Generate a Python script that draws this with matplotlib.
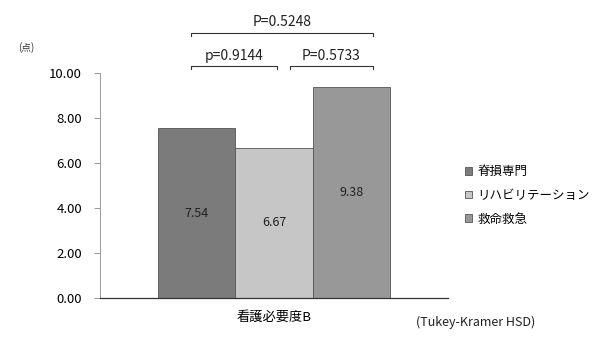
import matplotlib
matplotlib.use("Agg")
import matplotlib.pyplot as plt

plt.rcParams['font.family'] = ['Noto Sans CJK JP', 'DejaVu Sans']

category = "看護必要度B"
groups = ["脊損専門", "リハビリテーション", "救命救急"]
values = [7.54, 6.67, 9.38]
colors = ["#7b7b7b", "#c6c6c6", "#989898"]
yticks = [0, 2, 4, 6, 8, 10]

# pairwise comparisons: (left group, right group, label, level)
comparisons = [
    (0, 1, "p=0.9144", 0),
    (1, 2, "P=0.5733", 0),
    (0, 2, "P=0.5248", 1),
]

fig = plt.figure(figsize=(5.99, 3.49), dpi=100)
ax = fig.add_axes([0.167, 0.146, 0.581, 0.645])

width = 0.222
offsets = [-width, 0.0, width]
for g, v, c, off in zip(groups, values, colors, offsets):
    bars = ax.bar(off, v, width=width, color=c, edgecolor="#555555",
                  linewidth=0.6, label=g)
    ax.bar_label(bars, labels=[f"{v:.2f}"], label_type="center",
                 fontsize=9, color="#222222")

ax.set_xlim(-0.5, 0.5)
ax.set_ylim(0, 10)
ax.set_yticks(yticks)
ax.set_yticklabels([f"{t:.2f}" for t in yticks], fontsize=9.5)
ax.set_xticks([0])
ax.set_xticklabels([category], fontsize=9.5)
ax.tick_params(axis="x", length=0, pad=9)
ax.tick_params(axis="y", length=4, width=0.6, color="#888888", pad=9)

for s in ["top", "right"]:
    ax.spines[s].set_visible(False)
ax.spines["left"].set_color("#999999")
ax.spines["left"].set_linewidth(0.7)
ax.spines["bottom"].set_color("#333333")
ax.spines["bottom"].set_linewidth(0.9)

# significance brackets above the bars
level_y = [10.31, 11.78]
for i, j, txt, lvl in comparisons:
    x0 = offsets[i] - 0.018
    x1 = offsets[j] + 0.062 if j == 2 else offsets[j] + 0.009
    if i == 1:
        x0 = offsets[i] + 0.046
    y = level_y[lvl]
    ax.plot([x0, x0, x1, x1], [y - 0.12, y, y, y - 0.12], color="#333333",
            lw=0.8, clip_on=False)
    ax.text((x0 + x1) / 2, y + 0.15, txt, ha="center", va="bottom",
            fontsize=10, color="#222222", clip_on=False)

fig.text(0.03, 0.865, "(点)", fontsize=7, color="#333333", va="center")

fig.legend(loc="center left", bbox_to_anchor=(0.758, 0.44), frameon=False,
           fontsize=9, handlelength=0.55, handleheight=0.55,
           handletextpad=0.4, labelspacing=0.85)

fig.text(0.695, 0.075, "(Tukey-Kramer HSD)", fontsize=9, color="#222222",
         va="center")

fig.savefig("out.png", dpi=100)
